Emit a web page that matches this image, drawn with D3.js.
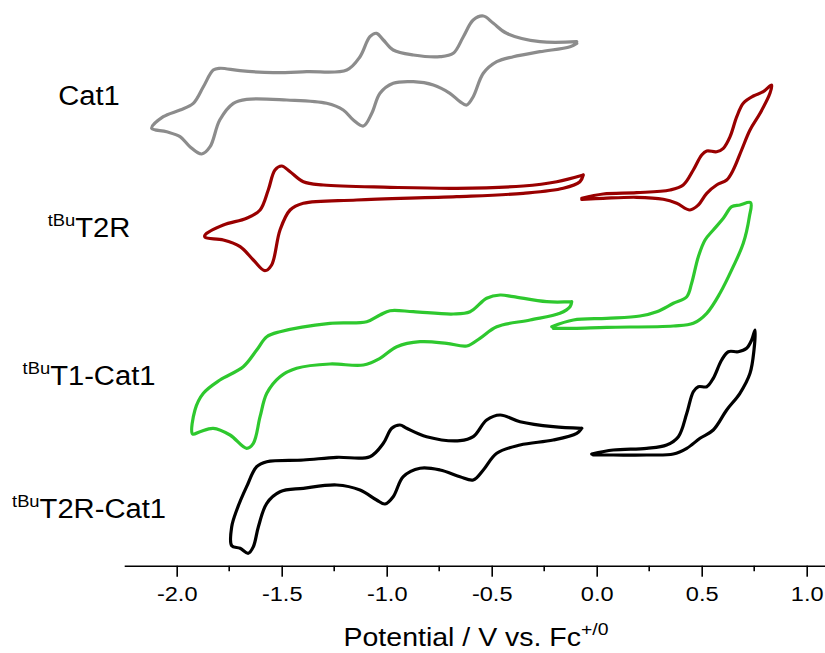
<!DOCTYPE html>
<html><head><meta charset="utf-8">
<script src="https://cdn.jsdelivr.net/npm/d3@7/dist/d3.min.js"></script>
<style>body{margin:0;background:#fff}svg{display:block}text{font-family:"Liberation Sans",Arial,sans-serif}</style>
</head><body><svg id="c" width="825" height="653"></svg>
<script>
// Potential (V vs Fc+/0), current (arbitrary units, traces stacked)
const cat1 = [[-0.095,524.3],[-0.270,524.3],[-0.429,532.7],[-0.492,542.7],[-0.540,550],[-0.588,546],[-0.635,529.3],[-0.683,512.7],[-0.746,509.3],[-0.873,511],[-0.969,516],[-1.016,526],[-1.048,532.7],[-1.080,529.3],[-1.127,509.3],[-1.190,496],[-1.381,494.3],[-1.540,493.3],[-1.699,495.3],[-1.795,497.7],[-1.826,496],[-1.873,479.3],[-1.921,462.7],[-1.984,456],[-2.064,449.3],[-2.119,437.7],[-2.048,434.3],[-1.984,429.3],[-1.937,419.3],[-1.881,412],[-1.841,419.3],[-1.795,446],[-1.730,462.7],[-1.667,466.7],[-1.476,466],[-1.286,462.7],[-1.207,456],[-1.159,446],[-1.111,440],[-1.071,452.7],[-1.032,472.7],[-0.969,482.7],[-0.873,484.3],[-0.778,481],[-0.699,472.7],[-0.651,464.3],[-0.619,461],[-0.588,469.3],[-0.540,492.7],[-0.476,504.3],[-0.397,509.3],[-0.270,514.3],[-0.127,519.3],[-0.095,522.7]];
const t2rNeg = [[-0.064,391],[-0.190,384.3],[-0.350,380],[-0.667,377.7],[-0.984,378.7],[-1.302,381],[-1.397,384.3],[-1.460,394.3],[-1.500,400],[-1.532,396],[-1.564,376],[-1.603,356],[-1.667,347.7],[-1.778,341],[-1.865,331],[-1.865,328.7],[-1.778,326],[-1.698,319.3],[-1.635,306],[-1.580,295.3],[-1.548,301],[-1.508,336],[-1.460,356],[-1.397,362.7],[-1.143,366],[-0.667,369.3],[-0.350,372.7],[-0.159,377.7],[-0.080,384.3],[-0.064,391]];
const t2rPos = [[-0.071,367.7],[0.031,372],[0.190,373.3],[0.349,376],[0.412,381],[0.460,396],[0.500,411],[0.524,415],[0.571,414.3],[0.603,417.7],[0.635,429.3],[0.667,449.3],[0.698,462.7],[0.746,470],[0.793,474.3],[0.833,481],[0.825,472.7],[0.778,452.7],[0.730,436],[0.690,416],[0.650,396],[0.619,386],[0.571,381],[0.524,372.7],[0.484,361],[0.444,356],[0.381,362.7],[0.317,366.7],[0.190,368.7],[0.031,367.7],[-0.071,366.7]];
const t1catNeg = [[-0.119,264.3],[-0.238,264.3],[-0.397,269.3],[-0.460,271],[-0.524,267.7],[-0.603,254.3],[-0.683,252],[-0.873,254.3],[-0.984,255.3],[-1.032,251],[-1.095,244.3],[-1.270,242.7],[-1.508,234.3],[-1.571,229.3],[-1.619,216],[-1.683,199.3],[-1.794,186],[-1.873,172.7],[-1.913,156],[-1.924,132],[-1.889,134.3],[-1.826,137.7],[-1.746,131],[-1.667,117.7],[-1.635,122.7],[-1.603,149.3],[-1.571,172.7],[-1.508,189.3],[-1.429,197.7],[-1.270,202],[-1.111,201],[-1.032,207.7],[-0.952,219.3],[-0.841,224.3],[-0.714,222.7],[-0.619,220],[-0.556,227.7],[-0.476,239.3],[-0.317,246],[-0.175,252.7],[-0.127,259.3],[-0.119,264.3]];
const t1catPos = [[-0.214,239.3],[-0.111,246],[0.048,247.7],[0.206,250],[0.286,254.3],[0.365,262.7],[0.429,269.3],[0.452,282.7],[0.484,309.3],[0.516,326],[0.555,336],[0.603,347.7],[0.643,359.3],[0.682,361],[0.733,363.3],[0.727,349.3],[0.698,322.7],[0.650,299.3],[0.587,272.7],[0.524,252.7],[0.460,242.7],[0.365,240],[0.048,238.7],[-0.111,237.7],[-0.207,237.7]];
const t2rcatNeg = [[-0.071,137.7],[-0.207,139.3],[-0.365,144.3],[-0.460,151],[-0.524,146],[-0.588,129.3],[-0.651,125.3],[-0.810,129.3],[-0.905,137.7],[-0.937,141],[-0.976,137.7],[-1.016,122.7],[-1.080,109.3],[-1.238,108.7],[-1.397,106],[-1.571,104.3],[-1.619,99.3],[-1.667,79.3],[-1.714,56],[-1.738,39.3],[-1.738,20.3],[-1.698,17.7],[-1.659,12.7],[-1.635,19.3],[-1.611,39.3],[-1.571,62.7],[-1.508,74.3],[-1.397,77.7],[-1.238,81],[-1.127,76],[-1.048,66],[-1.008,62],[-0.969,69.3],[-0.921,89.3],[-0.841,97.7],[-0.746,96],[-0.651,89.3],[-0.588,86],[-0.540,96],[-0.476,112.7],[-0.365,121],[-0.207,126],[-0.095,132.7],[-0.071,137.7]];
const t2rcatPos = [[-0.024,112],[0.079,116],[0.238,117.7],[0.333,121],[0.389,129.3],[0.429,152.7],[0.460,174.3],[0.484,179.3],[0.524,179.3],[0.555,187.7],[0.595,206],[0.627,214.3],[0.674,214.3],[0.714,217.7],[0.738,226],[0.754,236],[0.749,216],[0.730,192.7],[0.682,172.7],[0.619,156],[0.555,136],[0.492,127.7],[0.429,117.7],[0.365,112],[0.238,111],[0.079,111],[-0.016,111]];

const seriesNames = ["Cat1","T2R","T1-Cat1","T2R-Cat1"];
const seriesPrefix = ["","tBu","tBu","tBu"];
const seriesColors = ["#8c8c8c","#990000","#2ec82e","#000000"];
const seriesParts = [[cat1],[t2rNeg,t2rPos],[t1catNeg,t1catPos],[t2rcatNeg,t2rcatPos]];
const labelY = [105, 236.7, 385, 518.3];
const xTicks = [-2.0,-1.5,-1.0,-0.5,0.0,0.5,1.0];
const xMinor = [-1.75,-1.25,-0.75,-0.25,0.25,0.75];

const svg = d3.select("#c");
const x = d3.scaleLinear().domain([-2.25, 1.1]).range([124.2, 827.7]);
const y = d3.scaleLinear().domain([0, 566]).range([566, 0]);

const line = d3.line().x(d=>x(d[0])).y(d=>y(d[1])).curve(d3.curveCatmullRom.alpha(0.5));

seriesParts.forEach((parts,i)=>{
  parts.forEach(p=>{
    svg.append("path").attr("d", line(p)).attr("fill","none")
      .attr("stroke", seriesColors[i]).attr("stroke-width",3.2)
      .attr("stroke-linejoin","round").attr("stroke-linecap","round");
  });
});

// axis
const axisY = 565.7;
const gx = svg.append("g").attr("transform",`translate(0,${axisY})`)
  .call(d3.axisBottom(x).tickValues(xTicks).tickSize(11).tickSizeOuter(0).tickPadding(10).tickFormat(d3.format(".1f")));
gx.select(".domain").attr("stroke","#000").attr("stroke-width",1.6);
gx.selectAll(".tick line").attr("stroke","#000").attr("stroke-width",1.6);
gx.selectAll(".tick text").attr("font-size",20.5).attr("fill","#000")
  .attr("font-family","'Liberation Sans',Arial,sans-serif")
  .text(d=> d<0 ? "-"+Math.abs(d).toFixed(1) : d.toFixed(1))
  .attr("transform","scale(1.15,1)");
gx.selectAll(".minor").data(xMinor).enter().append("line").attr("class","minor")
  .attr("x1",d=>x(d)).attr("x2",d=>x(d)).attr("y1",0).attr("y2",5.5)
  .attr("stroke","#000").attr("stroke-width",1.6);

// axis title
const title = svg.append("text").attr("transform","translate(476,646) scale(1.14,1)")
  .attr("text-anchor","middle").attr("font-size",25).attr("fill","#000");
title.append("tspan").text("Potential / V vs. Fc");
title.append("tspan").attr("font-size",17).attr("dy",-11).text("+/0");

// series labels
seriesNames.forEach((n,i)=>{
  const t = svg.append("text").attr("transform",`translate(89,${labelY[i]}) scale(1.08,1)`)
    .attr("text-anchor","middle").attr("font-size",27).attr("fill","#000");
  if (seriesPrefix[i]) {
    t.append("tspan").attr("font-size",17).attr("dy",-11).text(seriesPrefix[i]);
    t.append("tspan").attr("dy",11).text(n);
  } else t.append("tspan").text(n);
});
</script></body></html>
